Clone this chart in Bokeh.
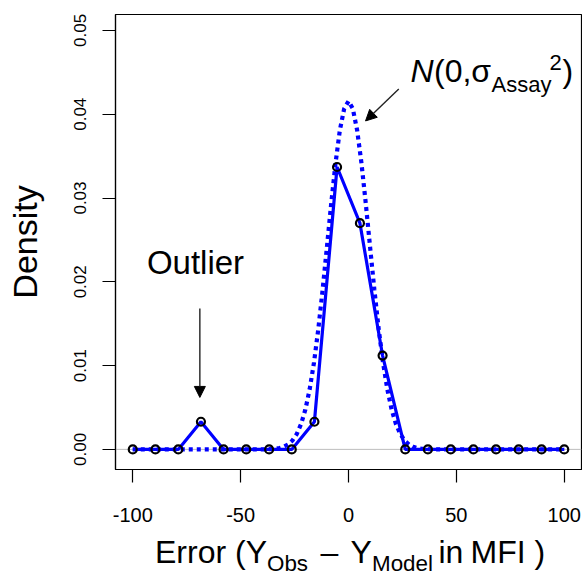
from bokeh.plotting import figure
from bokeh.layouts import column
from bokeh.models import (Range1d, FixedTicker, NumeralTickFormatter, Span, Label,
                          Arrow, NormalHead, ColumnDataSource)
from bokeh.embed import file_html
from bokeh.resources import INLINE

# ---- data ----
err_x = [-100.0, -89.5, -78.9, -68.4, -57.9, -47.4, -36.8, -26.3, -15.8, -5.3,
         5.3, 15.8, 26.3, 36.8, 47.4, 57.9, 68.4, 78.9, 89.5, 100.0]
density = [0, 0, 0, 0.0033, 0, 0, 0, 0, 0.0033, 0.0337,
           0.0270, 0.0112, 0, 0, 0, 0, 0, 0, 0, 0]

norm_x = [-100, -40, -36, -34, -32, -30, -28, -26, -24, -22, -20, -18, -16, -14, -12,
          -10, -8, -6, -4, -2, 0, 2, 4, 6, 8, 10, 12, 14, 16, 18, 20, 22, 24, 26,
          28, 30, 32, 34, 36, 40, 100]
norm_y = [0, 0, 0.00004, 0.00008, 0.00016, 0.00031, 0.00059, 0.00106, 0.00183,
          0.00301, 0.00474, 0.00717, 0.01036, 0.01435, 0.01903, 0.02416, 0.02937,
          0.03418, 0.03810, 0.04066, 0.04156, 0.04066, 0.03810, 0.03418, 0.02937,
          0.02416, 0.01903, 0.01435, 0.01036, 0.00717, 0.00474, 0.00301, 0.00183,
          0.00106, 0.00059, 0.00031, 0.00016, 0.00008, 0.00004, 0, 0]

x_ticks = [-100, -50, 0, 50, 100]
x_tick_labels = ["-100", "-50", "0", "50", "100"]
y_ticks = [0.0, 0.01, 0.02, 0.03, 0.04, 0.05]

FONT = "Liberation Sans"
BLUE = "#0000FF"

W, H = 582, 578
BOT_H = 43           # strip holding the x title
MAIN_H = H - BOT_H
FL, FB = 115, 469    # frame left / bottom in page pixels
BASE_SHIFT = 0.38    # Label 'alphabetic' anchor correction (fraction of font size)

p = figure(width=W, height=MAIN_H, output_backend="svg", toolbar_location=None,
           x_range=Range1d(-108, 108), y_range=Range1d(-0.0024, 0.0519),
           min_border_left=FL, min_border_right=1, min_border_top=14,
           min_border_bottom=MAIN_H - FB)
p.background_fill_color = "white"
p.border_fill_color = "white"
p.grid.visible = False
p.outline_line_color = "black"
p.outline_line_width = 1.2

for ax in (p.xaxis[0], p.yaxis[0]):
    ax.axis_line_color = "black"
    ax.axis_line_width = 1.2
    ax.major_tick_line_color = "black"
    ax.major_tick_line_width = 1.2
    ax.major_tick_out = 13
    ax.major_tick_in = 0
    ax.minor_tick_line_color = None
    ax.major_label_text_font = FONT
    ax.major_label_text_color = "black"

p.xaxis.ticker = FixedTicker(ticks=x_ticks)
p.xaxis.major_label_overrides = dict(zip(x_ticks, x_tick_labels))
p.xaxis.major_label_text_font_size = "20px"
p.xaxis.major_label_standoff = 25

p.yaxis.ticker = FixedTicker(ticks=y_ticks)
p.yaxis.formatter = NumeralTickFormatter(format="0.00")
p.yaxis.major_label_orientation = "vertical"
p.yaxis.major_label_text_font_size = "17px"
p.yaxis.major_label_standoff = 16
p.yaxis.axis_label = "Density"
p.yaxis.axis_label_text_font = FONT
p.yaxis.axis_label_text_font_size = "34px"
p.yaxis.axis_label_text_font_style = "normal"
p.yaxis.axis_label_text_color = "black"
p.yaxis.axis_label_standoff = 28

# zero reference line
p.add_layout(Span(location=0, dimension="width", line_color="#bebebe", line_width=1,
                  level="underlay"))

src = ColumnDataSource(dict(x=err_x, y=density))
p.line("x", "y", source=src, line_color=BLUE, line_width=3.2)
p.line(norm_x, norm_y, line_color=BLUE, line_width=4.2, line_dash="4 4",
       line_cap="butt")
p.scatter("x", "y", source=src, size=8, marker="circle", fill_color=None,
          line_color="black", line_width=2.2)

# arrows
p.add_layout(Arrow(x_start=-68.9, y_start=0.0168, x_end=-68.9, y_end=0.0062,
                   line_color="#222222", line_width=1.4,
                   end=NormalHead(size=11, fill_color="black", line_color="black")))
p.add_layout(Arrow(x_start=23.3, y_start=0.0430, x_end=7.9, y_end=0.0392,
                   line_color="#222222", line_width=1.4,
                   end=NormalHead(size=11, fill_color="black", line_color="black")))


def lab(fig, oy_bottom, text, px, py, size, align="left", style="normal"):
    """place a text with its baseline at page pixel (px, py)."""
    py = py - BASE_SHIFT * size
    fig.add_layout(Label(x=px - FL, y=oy_bottom - py, x_units="screen",
                         y_units="screen", text=text, text_font=FONT,
                         text_font_size=f"{size}px", text_align=align,
                         text_baseline="alphabetic",
                         text_color="black", text_font_style=style))


# annotations inside the plot
lab(p, FB, "Outlier", 195, 275, 33, align="center")
lab(p, FB, "N", 410, 83, 32, style="italic")
lab(p, FB, "(0,σ", 433.5, 83, 32)
lab(p, FB, "Assay", 491, 92, 22)
lab(p, FB, "2", 549, 70, 22)
lab(p, FB, ")", 562, 83, 32)

# x axis title strip (frame aligned with the main frame)
bottom = figure(width=W, height=BOT_H, output_backend="svg", toolbar_location=None,
                x_range=Range1d(0, 1), y_range=Range1d(0, 1),
                x_axis_location=None, y_axis_location=None,
                min_border_left=FL, min_border_right=1, min_border_top=0,
                min_border_bottom=0)
bottom.grid.visible = False
bottom.outline_line_color = None
bottom.background_fill_color = "white"
bottom.border_fill_color = "white"

M, S = 32, 22.4
for txt, px, py, sz in [("Error", 154.5, 564, M), ("(Y", 234.5, 564, M),
                        ("Obs", 266.5, 572, S), ("–", 320, 564, M),
                        ("Y", 350, 564, M), ("Model", 371.5, 572, S),
                        ("in", 438, 564, M), ("MFI", 470, 564, M),
                        (")", 534, 564, M)]:
    lab(bottom, H, txt, px, py, sz)

layout = column(p, bottom)
open("out.html", "w").write(file_html(layout, INLINE))
